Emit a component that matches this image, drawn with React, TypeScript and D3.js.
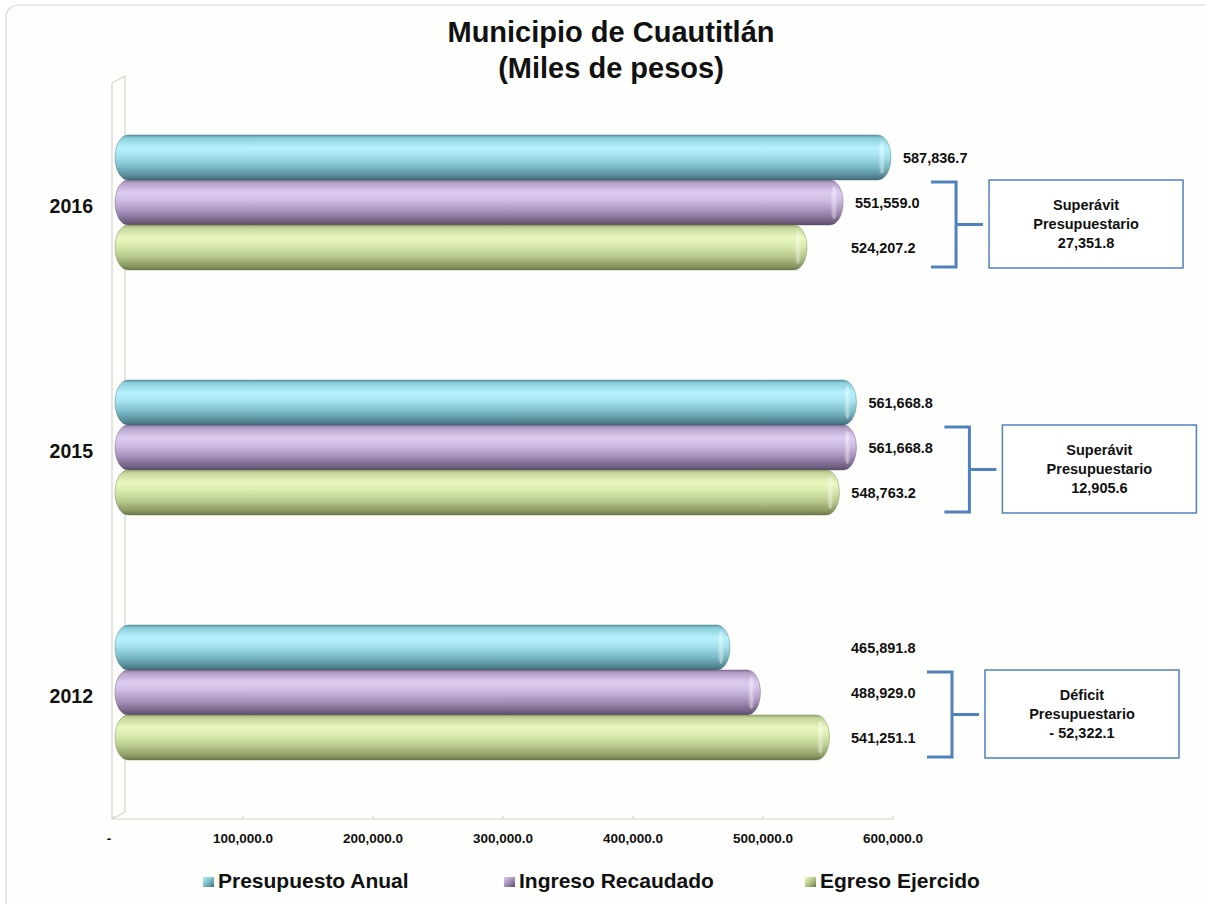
import React from "react";
import * as d3 from "d3";

const years = ["2016", "2015", "2012"];
const seriesNames = ["Presupuesto Anual", "Ingreso Recaudado", "Egreso Ejercido"];
const presupuesto = [587836.7, 561668.8, 465891.8];
const ingreso = [551559.0, 561668.8, 488929.0];
const egreso = [524207.2, 548763.2, 541251.1];
const tickValues = [0, 100000, 200000, 300000, 400000, 500000, 600000];

const W = 1206;
const H = 904;
const FONT = "'Liberation Sans', Arial, Helvetica, sans-serif";

const palettes = [
  // cyan
  [["0%", "#5a9aa9"], ["7%", "#8ccfdc"], ["28%", "#b6f2fc"], ["45%", "#a7e5f1"], ["70%", "#7cbcc9"], ["90%", "#578b98"], ["100%", "#406b76"]],
  // purple
  [["0%", "#88749b"], ["7%", "#b6a2ca"], ["28%", "#ddccf0"], ["45%", "#cebce2"], ["70%", "#a590b9"], ["90%", "#786689"], ["100%", "#5b4c6a"]],
  // green
  [["0%", "#9bac73"], ["7%", "#c6d79c"], ["28%", "#e9f8be"], ["45%", "#dbecaf"], ["70%", "#b6c88b"], ["90%", "#8c9b64"], ["100%", "#6a7748"]],
];

const fmt = d3.format(",.1f");

export default function App() {
  const series = [presupuesto, ingreso, egreso];
  const axisX = d3.scaleLinear().domain([0, 600000]).range([113, 893]);
  const barX = d3.scaleLinear().domain([0, 600000]).range([115, 907]);
  const band = d3.scaleBand().domain(years).range([80, 815]);
  const groupH = 135;
  const inner = d3.scaleBand().domain(["0", "1", "2"]).range([0, groupH]);
  const barH = inner.bandwidth();
  const axisY = 819;

  const labelX = (end: number) => Math.max(end + 12, 851);

  return (
    <svg width={W} height={H} style={{ position: "fixed", left: 0, top: 0, background: "#ffffff" }} fontFamily={FONT}>
      <defs>
        {palettes.map((p, i) => (
          <linearGradient key={i} id={`g${i}`} x1="0" y1="0" x2="0" y2="1">
            {p.map(([o, c]) => (
              <stop key={o} offset={o} stopColor={c} />
            ))}
          </linearGradient>
        ))}
        {palettes.map((p, i) => (
          <linearGradient key={"s" + i} id={`sw${i}`} x1="0" y1="0" x2="1" y2="1">
            <stop offset="0%" stopColor={p[2][1]} />
            <stop offset="50%" stopColor={p[4][1]} />
            <stop offset="100%" stopColor={p[6][1]} />
          </linearGradient>
        ))}
        <linearGradient id="capHi" x1="0" y1="0" x2="1" y2="0">
          <stop offset="0%" stopColor="#ffffff" stopOpacity="0" />
          <stop offset="50%" stopColor="#ffffff" stopOpacity="0.45" />
          <stop offset="100%" stopColor="#ffffff" stopOpacity="0" />
        </linearGradient>
      </defs>

      {/* outer frame */}
      <rect x={6} y={5} width={W + 10} height={H + 10} rx={12} fill="#fefefc" stroke="#d8d8d2" strokeWidth={1.2} />

      {/* title */}
      <text x={611} y={42} textAnchor="middle" fontSize={29} fontWeight="bold" fill="#111">
        Municipio de Cuautitlán
      </text>
      <text x={611} y={78} textAnchor="middle" fontSize={29} fontWeight="bold" fill="#111">
        (Miles de pesos)
      </text>

      {/* 3D walls */}
      <g fill="none" stroke="#d4d4cc" strokeWidth={1.2}>
        <polygon points={`112,83 125,76 125,812 112,${axisY}`} />
        <line x1={112} y1={axisY} x2={axisX(600000)} y2={axisY} />
        {tickValues.map((t) => (
          <line key={t} x1={axisX(t)} y1={axisY} x2={axisX(t)} y2={axisY - 3} />
        ))}
      </g>

      {/* tick labels */}
      {tickValues.map((t) => (
        <text key={t} x={axisX(t) - (t === 0 ? 4 : 0)} y={843} textAnchor="middle" fontSize={13.5} fontWeight="bold" fill="#111">
          {t === 0 ? "-" : fmt(t)}
        </text>
      ))}

      {/* bars */}
      {years.map((yr, gi) => {
        const g0 = (band(yr) as number) + (band.bandwidth() - groupH) / 2;
        return (
          <g key={yr}>
            <text x={93} y={g0 + groupH / 2 + 10} textAnchor="end" fontSize={19.5} fontWeight="bold" fill="#111">
              {yr}
            </text>
            {series.map((s, si) => {
              const y = g0 + (inner(String(si)) as number);
              const x0 = barX(0);
              const x1 = barX(s[gi]);
              return (
                <g key={si}>
                  <rect x={x0} y={y} width={x1 - x0} height={barH} rx={13} ry={barH / 2} fill={`url(#g${si})`} stroke={palettes[si][6][1]} strokeOpacity={0.5} strokeWidth={0.8} />
                  <ellipse cx={x1 - 9} cy={y + barH / 2} rx={4} ry={barH * 0.36} fill="url(#capHi)" />
                </g>
              );
            })}
          </g>
        );
      })}

      {/* value labels */}
      {years.map((yr, gi) => {
        const g0 = (band(yr) as number) + (band.bandwidth() - groupH) / 2;
        return series.map((s, si) => {
          const y = g0 + (inner(String(si)) as number) + barH / 2;
          return (
            <text key={yr + si} x={labelX(barX(s[gi]))} y={y + 5} fontSize={14.5} fontWeight="bold" fill="#111">
              {fmt(s[gi])}
            </text>
          );
        });
      })}

      {/* annotations */}
      {years.map((yr, gi) => {
        const g0 = (band(yr) as number) + (band.bandwidth() - groupH) / 2;
        const top = g0 + (inner("1") as number);
        const bottom = g0 + (inner("2") as number) + barH;
        const diff = ingreso[gi] - egreso[gi];
        const kind = diff >= 0 ? "Superávit" : "Déficit";
        const valText = diff >= 0 ? fmt(diff) : "- " + fmt(-diff);
        const lx = Math.max(labelX(barX(ingreso[gi])), labelX(barX(egreso[gi])));
        const bx = lx + 76;
        const bt = top + 2;
        const bb = bottom - 3;
        const bm = (bt + bb) / 2;
        const boxX = bx + 58;
        const boxW = 194;
        const boxT = top;
        const boxB = bottom - 2;
        const cy = (boxT + boxB) / 2;
        return (
          <g key={"a" + yr}>
            <path d={`M${bx},${bt} H${bx + 25} V${bb} H${bx} M${bx + 25},${bm} H${bx + 52}`} fill="none" stroke="#4f81bd" strokeWidth={3} />
            <rect x={boxX} y={boxT} width={boxW} height={boxB - boxT} fill="#ffffff" stroke="#4f81bd" strokeWidth={1.5} />
            {[kind, "Presupuestario", valText].map((t, li) => (
              <text key={li} x={boxX + boxW / 2} y={cy + (li - 1) * 19 + 5} textAnchor="middle" fontSize={14.5} fontWeight="bold" fill="#111">
                {t}
              </text>
            ))}
          </g>
        );
      })}

      {/* legend */}
      {seriesNames.map((n, i) => {
        const x = 203 + i * 301;
        return (
          <g key={n}>
            <rect x={x} y={877} width={11} height={10} fill={`url(#sw${i})`} />
            <text x={x + 15} y={888} fontSize={21} fontWeight="bold" fill="#111">
              {n}
            </text>
          </g>
        );
      })}
    </svg>
  );
}
